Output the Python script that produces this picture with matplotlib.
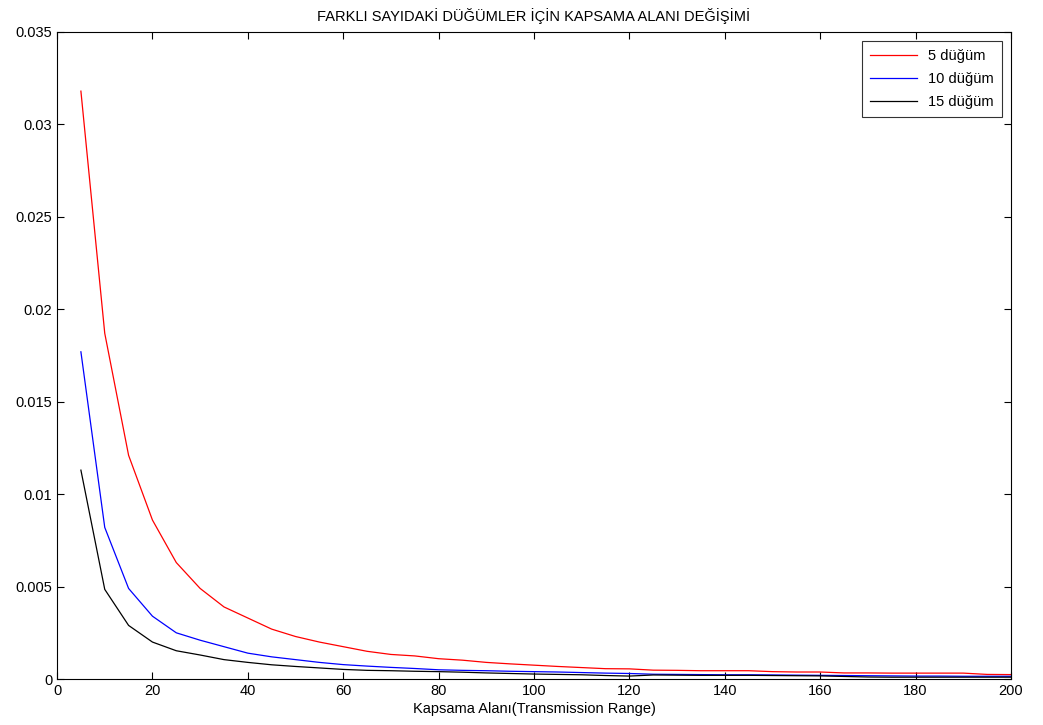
import numpy as np
import matplotlib
matplotlib.use("Agg")
import matplotlib.pyplot as plt
from matplotlib.ticker import FuncFormatter

plt.rcParams['font.family'] = ['Liberation Sans', 'DejaVu Sans']

# transmission range values
kapsama = list(range(5, 205, 5))

# 5 nodes
dugum5 = [0.0318, 0.0187, 0.0121, 0.0086, 0.0063, 0.0049, 0.0039, 0.0033, 0.0027, 0.0023,
          0.0020, 0.00175, 0.0015, 0.00133, 0.00125, 0.0011, 0.00102, 0.0009, 0.00082, 0.00075,
          0.00068, 0.00062, 0.00056, 0.00055, 0.00048, 0.00047, 0.00045, 0.00045, 0.00045, 0.0004,
          0.00038, 0.00038, 0.00033, 0.00033, 0.00032, 0.00032, 0.00032, 0.00032, 0.00025, 0.00024]
# 10 nodes
dugum10 = [0.0177, 0.0082, 0.0049, 0.0034, 0.0025, 0.0021, 0.00175, 0.0014, 0.0012, 0.00105,
           0.0009, 0.00078, 0.0007, 0.00063, 0.00057, 0.0005, 0.00047, 0.00045, 0.00042, 0.0004,
           0.00038, 0.00035, 0.00032, 0.0003, 0.00026, 0.00025, 0.00024, 0.00023, 0.00023, 0.00022,
           0.00021, 0.0002, 0.00019, 0.00018, 0.00017, 0.00016, 0.00016, 0.00015, 0.00015, 0.00015]
# 15 nodes
dugum15 = [0.0113, 0.00485, 0.0029, 0.0020, 0.00153, 0.0013, 0.00105, 0.0009, 0.00077, 0.00068,
           0.0006, 0.00052, 0.00047, 0.00045, 0.00042, 0.0004, 0.00037, 0.00033, 0.0003, 0.00027,
           0.00025, 0.00023, 0.00019, 0.00016, 0.00022, 0.00021, 0.0002, 0.0002, 0.0002, 0.00019,
           0.00018, 0.00017, 0.00014, 0.00011, 0.0001, 0.0001, 0.0001, 0.0001, 0.0001, 0.0001]

fig = plt.figure(figsize=(10.43, 7.25), dpi=100)
ax = fig.add_axes([0.0547, 0.0634, 0.9146, 0.8925])

ax.plot(kapsama, dugum5, color="red", lw=0.9, label="5 düğüm")
ax.plot(kapsama, dugum10, color="blue", lw=0.9, label="10 düğüm")
ax.plot(kapsama, dugum15, color="black", lw=0.9, label="15 düğüm")

ax.set_xlim(0, 200)
ax.set_ylim(0, 0.035)
ax.set_xticks(np.arange(0, 201, 20))
ax.set_yticks(np.arange(0, 0.0351, 0.005))
ax.yaxis.set_major_formatter(FuncFormatter(lambda v, p: "%g" % round(v, 4)))
ax.tick_params(direction="in", top=True, right=True, labelsize=10.5, length=5)
for s in ax.spines.values():
    s.set_linewidth(0.8)

ax.set_title("FARKLI SAYIDAKİ DÜĞÜMLER İÇİN KAPSAMA ALANI DEĞİŞİMİ", fontsize=10.5, pad=8)
ax.set_xlabel("Kapsama Alanı(Transmission Range)", fontsize=10.5, labelpad=3)

leg = ax.legend(loc="upper right", fancybox=False, edgecolor="black", fontsize=10.5,
                handlelength=3.2, labelspacing=0.62, borderpad=0.55, borderaxespad=0.6)
leg.get_frame().set_linewidth(0.8)

fig.savefig("out.png", dpi=100)
